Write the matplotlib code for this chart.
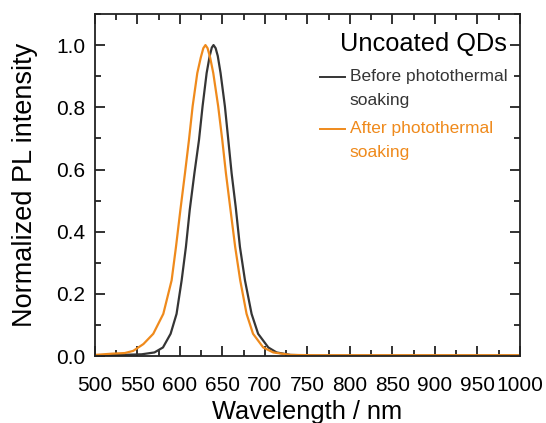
import matplotlib
matplotlib.use("Agg")
import matplotlib.pyplot as plt
from matplotlib.ticker import MultipleLocator

plt.rcParams["font.family"] = ["Liberation Sans", "DejaVu Sans"]

#===============================================================================
# PL spectra (wavelength in nm, normalized intensity)
before_wl = [500, 530, 555, 570, 580, 589, 596, 602, 607, 611.5, 617, 622.4,
             626.6, 631.4, 635, 637.5, 639.5, 642, 644.5, 647.8, 652.9, 656.9,
             660.8, 665.6, 670.6, 676.5, 684.3, 692, 704, 713.7, 730, 760, 1000]
before_pl = [0.002, 0.004, 0.006, 0.012, 0.028, 0.072, 0.136, 0.244, 0.351,
             0.47, 0.588, 0.695, 0.803, 0.91, 0.965, 0.992, 1.0, 0.99, 0.965,
             0.91, 0.803, 0.695, 0.588, 0.48, 0.351, 0.244, 0.136, 0.072,
             0.028, 0.012, 0.004, 0.002, 0.002]

after_wl = [500, 520, 535, 545, 557, 568.6, 580.4, 590.2, 595.3, 600.5, 605.9,
            610.6, 614.9, 620.4, 624.5, 627.5, 630, 632.5, 635.5, 639.2, 645,
            649.8, 654.1, 659.5, 665, 670.9, 678.4, 686, 698, 709.8, 730, 760,
            1000]
after_pl = [0.004, 0.008, 0.01, 0.017, 0.039, 0.072, 0.136, 0.244, 0.351,
            0.47, 0.588, 0.695, 0.803, 0.91, 0.96, 0.99, 1.0, 0.99, 0.96, 0.91,
            0.803, 0.695, 0.588, 0.47, 0.351, 0.244, 0.136, 0.072, 0.028,
            0.012, 0.004, 0.003, 0.003]

before_label = "Before photothermal\nsoaking"
after_label = "After photothermal\nsoaking"
title_label = "Uncoated QDs"

dark = "#353535"
orange = "#ef8a1c"

#===============================================================================
fig = plt.figure(figsize=(5.46, 4.23), dpi=100)
ax = fig.add_axes([0.174, 0.158, 0.778, 0.809])

ax.plot(before_wl, before_pl, color=dark, lw=1.6)
ax.plot(after_wl, after_pl, color=orange, lw=1.6)

ax.set_xlim(500, 1000)
ax.set_ylim(0.0, 1.1)
ax.xaxis.set_major_locator(MultipleLocator(50))
ax.xaxis.set_minor_locator(MultipleLocator(25))
ax.yaxis.set_major_locator(MultipleLocator(0.2))
ax.yaxis.set_minor_locator(MultipleLocator(0.1))
ax.yaxis.set_major_formatter(lambda v, pos: f"{v:.1f}")

ax.tick_params(which="both", direction="in", top=True, right=True,
               width=1.3, labelsize=15, color="#222222")
ax.tick_params(which="major", length=7)
ax.tick_params(which="minor", length=4)
ax.tick_params(axis="x", which="major", pad=14)
ax.tick_params(axis="y", which="major", pad=7)
for spine in ax.spines.values():
    spine.set_linewidth(1.3)
    spine.set_color("#222222")

ax.set_xlabel("Wavelength / nm", fontsize=18.3, labelpad=4)
ax.set_ylabel("Normalized PL intensity", fontsize=19.5, labelpad=13)

#===============================================================================
# legend drawn by hand so the handle sits on the first text line
ax.text(0.969, 0.892, title_label, transform=ax.transAxes, fontsize=18.3,
        ha="right", va="baseline", color="black")
for label, color, y in [(before_label, dark, 0.816), (after_label, orange, 0.664)]:
    ax.plot([0.529, 0.588], [y, y], transform=ax.transAxes, color=color, lw=1.4)
    ax.text(0.600, y + 0.022, label, transform=ax.transAxes, fontsize=12.5,
            ha="left", va="top", color=color, linespacing=1.7)

fig.savefig("out.png", dpi=100)
